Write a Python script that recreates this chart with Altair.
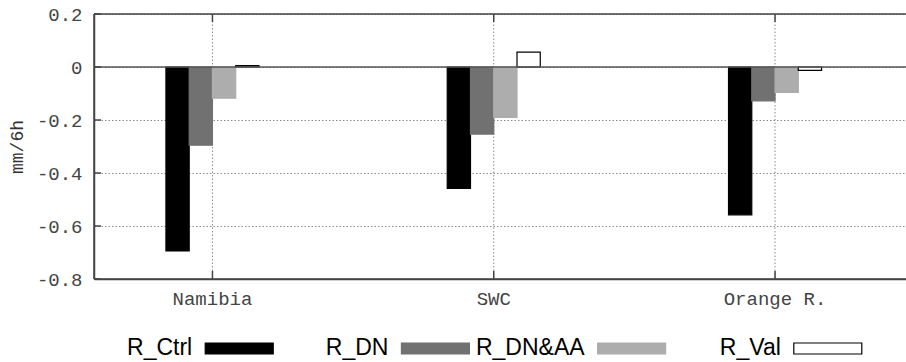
import altair as alt
import pandas as pd

cats = ["Namibia", "SWC", "Orange R."]
series = ["R_Ctrl", "R_DN", "R_DN&AA", "R_Val"]
r_ctrl = [-0.694, -0.458, -0.558]
r_dn = [-0.295, -0.253, -0.128]
r_dnaa = [-0.118, -0.190, -0.096]
r_val = [0.005, 0.056, -0.013]
y_ticks = [0.2, 0.0, -0.2, -0.4, -0.6, -0.8]

fills = ["#000000", "#717171", "#adadad", "#ffffff"]
strokes = ["#000000", "#717171", "#adadad", "#000000"]

rows = []
for s, vals in zip(series, [r_ctrl, r_dn, r_dnaa, r_val]):
    for c, v in zip(cats, vals):
        rows.append({"category": c, "series": s, "value": v})
df = pd.DataFrame(rows)
cat_df = pd.DataFrame({"category": cats})
tick_df = pd.DataFrame({"value": y_ticks})
leg_df = pd.DataFrame({"series": series})
one = pd.DataFrame({"a": [0]})

W, H = 812, 265
BORDER = "#444444"
GRID = "#8a8a8a"

x_scale = alt.Scale(domain=cats, paddingInner=0.6693, paddingOuter=0.278, align=0.46)
y_scale = alt.Scale(domain=[-0.8, 0.2], nice=False)

x_axis = alt.Axis(
    title=None, labelAngle=0, labelFont="Liberation Mono", labelFontSize=19,
    labelColor="#444444", labelPadding=10, ticks=False, grid=False,
    bandPosition=0.5, domain=True, domainColor=BORDER, domainWidth=1.5,
)
y_axis = alt.Axis(
    title="mm/6h", values=y_ticks, titleFont="Liberation Mono", titleFontSize=18,
    titleFontWeight="normal", titleColor="#333333", titlePadding=10,
    labelFont="Liberation Mono", labelFontSize=19, labelColor="#444444",
    labelPadding=12, ticks=False, grid=True, gridDash=[1.5, 2],
    gridColor=GRID, gridWidth=1, domain=True, domainColor=BORDER, domainWidth=1.5,
    labelExpr="datum.value == 0 ? '0' : (datum.value < 0 ? '-' : '') + format(abs(datum.value), '.1f')",
)

X = alt.X("category:N", sort=cats, scale=x_scale, axis=x_axis, title=None)
Y = alt.Y("value:Q", scale=y_scale, axis=y_axis, title="mm/6h")

color = alt.Color("series:N", scale=alt.Scale(domain=series, range=fills), legend=None)
stroke = alt.Stroke("series:N", scale=alt.Scale(domain=series, range=strokes), legend=None)

vgrid = alt.Chart(cat_df).mark_rule(color=GRID, strokeWidth=1, strokeDash=[1.5, 2]).encode(
    x=X, y=alt.value(0), y2=alt.value(H)
)

bars = alt.Chart(df).mark_bar(strokeWidth=1.2).encode(
    x=X,
    xOffset=alt.XOffset("series:N", sort=series,
                        scale=alt.Scale(domain=series, paddingInner=0, paddingOuter=0)),
    y=Y,
    color=color,
    stroke=stroke,
)

zero = alt.Chart(one).mark_rule(color="#555555", strokeWidth=1.5).encode(
    y=alt.datum(0, scale=y_scale, axis=y_axis, title="mm/6h")
)
top = alt.Chart(one).mark_rule(color=BORDER, strokeWidth=1.5).encode(
    y=alt.value(0), x=alt.value(0), x2=alt.value(W)
)
left = alt.Chart(one).mark_rule(color=BORDER, strokeWidth=1.5).encode(
    x=alt.value(0), y=alt.value(0), y2=alt.value(H)
)
bottom = alt.Chart(one).mark_rule(color=BORDER, strokeWidth=1.5).encode(
    y=alt.value(H), x=alt.value(0), x2=alt.value(W)
)
ytick_marks = alt.Chart(tick_df).mark_rule(color=BORDER, strokeWidth=1.5).encode(
    y=Y, x=alt.value(0), x2=alt.value(7)
)
xt_bottom = alt.Chart(cat_df).mark_rule(color=BORDER, strokeWidth=1.5).encode(
    x=X, y=alt.value(H), y2=alt.value(H - 8),
)
xt_top = alt.Chart(cat_df).mark_rule(color=BORDER, strokeWidth=1.5).encode(
    x=X, y=alt.value(0), y2=alt.value(8),
)

main = alt.layer(vgrid, bars, zero, top, left, bottom, ytick_marks, xt_bottom, xt_top)

leg_x = alt.X("series:N", sort=series,
              scale=alt.Scale(type="point", domain=series, padding=0.5694, align=0.65),
              axis=None)
swatch = alt.Chart(leg_df).mark_bar(size=68, strokeWidth=1.2).encode(
    x=leg_x, y=alt.value(329), y2=alt.value(340), color=color, stroke=stroke
)
leg_text = alt.Chart(leg_df).mark_text(
    align="right", baseline="middle", dx=-47, font="Liberation Sans",
    fontSize=23, color="#000000"
).encode(x=leg_x, y=alt.value(333.5), text="series:N")

chart = alt.layer(main, swatch, leg_text).resolve_scale(x="independent").properties(
    width=W, height=H,
    padding={"left": 94, "top": 14, "right": 0, "bottom": 83},
    autosize=alt.AutoSizeParams(type="none"),
).configure_view(stroke=None).configure(background="white")

chart.save("out.html", embed_options={"renderer": "svg", "actions": False})
